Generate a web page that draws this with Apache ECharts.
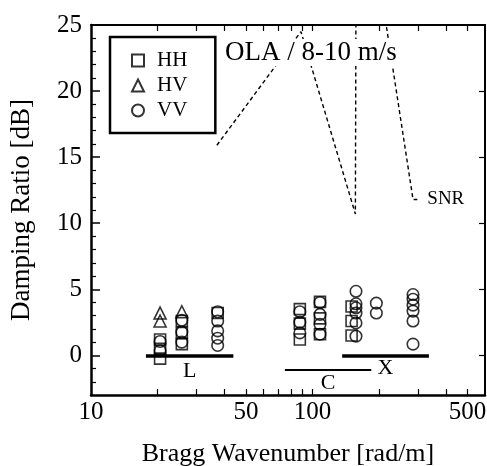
<!DOCTYPE html>
<html>
<head>
<meta charset="utf-8">
<script src="https://cdn.jsdelivr.net/npm/echarts@6/dist/echarts.min.js"></script>
<style>
  html, body { margin: 0; padding: 0; background: #fff; }
  #chart { width: 487px; height: 466px; }
</style>
</head>
<body>
<div id="chart"></div>
<script>
// Damping ratio vs Bragg wavenumber, three polarisations, OLA 8-10 m/s
const hhK  = [20.5, 20.5, 20.5, 25.7, 25.7, 25.7, 37.3, 87.6, 87.6, 87.6, 108, 108, 108, 150, 150, 150];
const hhDb = [1.2, 0.5, -0.25, 2.6, 1.7, 0.85, 3.2, 3.5, 2.4, 1.2, 4.05, 2.8, 1.6, 3.7, 2.6, 1.5];

const hvK  = [20.5, 20.5, 25.7];
const hvDb = [3.2, 2.6, 3.3];

const vvK  = [20.5, 20.5, 25.7, 25.7, 25.7, 37.3, 37.3, 37.3, 37.3, 37.3,
              87.6, 87.6, 87.6, 108, 108, 108, 108, 157, 157, 157, 157, 157, 157,
              194, 194, 284, 284, 284, 284, 284, 284];
const vvDb = [1.05, 0.35, 2.65, 1.75, 1.0, 3.3, 2.6, 1.85, 1.3, 0.75,
              3.3, 2.5, 1.7, 4.0, 3.1, 2.35, 1.6, 4.85, 3.9, 3.6, 3.2, 2.45, 1.45,
              3.95, 3.2, 4.6, 4.25, 3.8, 3.35, 2.6, 0.85];

// signal-to-noise limit (dashed)
const snrK  = [37, 88.6, 156, 157, 206, 284, 297];
const snrDb = [15.9, 24.5, 10.7, 27, 27, 11.8, 11.8];

// radar bands
const bandName  = ['L', 'C', 'X'];
const bandFrom  = [17.7, 75, 136];
const bandTo    = [43.9, 184, 335];
const bandLevel = [0, -1.1, 0];
const bandWidth = [3.5, 2, 3.5];

const xLabelValues = [10, 50, 100, 500];
const xTickValues  = [20, 30, 40, 50, 60, 70, 80, 90, 100, 200, 300, 400, 500];
const yLabelValues = [0, 5, 10, 15, 20, 25];
const yMinorValues = [-2, -1, 1, 2, 3, 4, 6, 7, 8, 9, 11, 12, 13, 14, 16, 17, 18, 19, 21, 22, 23, 24];

const FONT = "'Liberation Serif', 'Times New Roman', serif";
const pairs = (ks, vs) => ks.map((k, i) => [k, vs[i]]);

const hollow = { color: 'rgba(0,0,0,0)', borderColor: '#000', borderWidth: 1.6 };

const xBase = {
  type: 'log', logBase: 10, min: 10, max: 600,
  splitLine: { show: false }
};

const chart = echarts.init(document.getElementById('chart'), null, { renderer: 'canvas' });

chart.setOption({
  animation: false,
  backgroundColor: '#fff',
  textStyle: { fontFamily: FONT, color: '#000' },
  grid: { left: 91, right: 2, top: 25, bottom: 71, containLabel: false, outerBoundsMode: 'none' },
  title: {
    text: 'OLA / 8-10 m/s',
    left: 225, top: 39, padding: 0, z: 10,
    backgroundColor: '#fff',
    textStyle: { fontFamily: FONT, fontSize: 27, fontWeight: 'normal', color: '#000' }
  },
  legend: {
    orient: 'vertical',
    left: 110, top: 37,
    padding: [13, 28, 12, 21],
    itemGap: 4,
    itemWidth: 12, itemHeight: 12,
    borderColor: '#000', borderWidth: 2.5,
    backgroundColor: '#fff',
    data: [
      { name: 'HH', icon: 'rect' },
      { name: 'HV', icon: 'triangle' },
      { name: 'VV', icon: 'circle' }
    ],
    textStyle: { fontFamily: FONT, fontSize: 21, color: '#000', padding: [0, 0, 0, 8] }
  },
  xAxis: [
    Object.assign({}, xBase, {
      position: 'bottom',
      name: 'Bragg Wavenumber [rad/m]',
      nameLocation: 'middle', nameGap: 46,
      nameTextStyle: { fontFamily: FONT, fontSize: 26, color: '#000' },
      axisLine: { onZero: false, lineStyle: { color: '#000', width: 2.5 } },
      axisTick: { inside: true, length: 6, customValues: xTickValues, lineStyle: { color: '#000', width: 1.2 } },
      axisLabel: { customValues: xLabelValues, fontFamily: FONT, fontSize: 25, color: '#000', margin: 5 }
    }),
    Object.assign({}, xBase, {
      position: 'top',
      axisLine: { onZero: false, lineStyle: { color: '#000', width: 2 } },
      axisTick: { inside: true, length: 6, customValues: xTickValues, lineStyle: { color: '#000', width: 1.2 } },
      axisLabel: { show: false }
    })
  ],
  yAxis: [
    {
      type: 'value', min: -3, max: 25, position: 'left',
      name: 'Damping Ratio [dB]',
      nameLocation: 'middle', nameGap: 56,
      nameTextStyle: { fontFamily: FONT, fontSize: 27, color: '#000' },
      splitLine: { show: false },
      axisLine: { show: true, onZero: false, lineStyle: { color: '#000', width: 2.5 } },
      axisTick: { inside: true, length: 9, customValues: yLabelValues, lineStyle: { color: '#000', width: 1.5 } },
      axisLabel: { customValues: yLabelValues, fontFamily: FONT, fontSize: 25, color: '#000', margin: 9 }
    },
    {
      type: 'value', min: -3, max: 25, position: 'left',
      splitLine: { show: false },
      axisLine: { show: false, onZero: false },
      axisTick: { inside: true, length: 5, customValues: yMinorValues, lineStyle: { color: '#000', width: 1.2 } },
      axisLabel: { show: false }
    },
    {
      type: 'value', min: -3, max: 25, position: 'right',
      splitLine: { show: false },
      axisLine: { show: true, onZero: false, lineStyle: { color: '#000', width: 2 } },
      axisTick: { inside: true, length: 6, customValues: [0, 5, 10, 15, 20], lineStyle: { color: '#000', width: 1.2 } },
      axisLabel: { show: false }
    }
  ],
  series: [
    {
      name: 'SNR', type: 'line', xAxisIndex: 0, yAxisIndex: 0,
      data: pairs(snrK, snrDb),
      symbol: 'none', clip: true, silent: true,
      lineStyle: { color: '#000', width: 1.4, type: [4, 3] },
      endLabel: { show: true, formatter: 'SNR', distance: 10, fontFamily: FONT, fontSize: 19, color: '#000' }
    },
    {
      name: 'bands', type: 'lines', coordinateSystem: 'cartesian2d',
      xAxisIndex: 0, yAxisIndex: 0, silent: true,
      data: bandName.map((n, i) => ({
        name: n,
        coords: [[bandFrom[i], bandLevel[i]], [bandTo[i], bandLevel[i]]],
        lineStyle: { width: bandWidth[i] },
        label: { distance: i === 0 ? 5 : 2 }
      })),
      lineStyle: { color: '#000', opacity: 1, curveness: 0 },
      symbol: 'none',
      label: {
        show: true, position: 'insideMiddleBottom', formatter: '{b}',
        fontFamily: FONT, fontSize: 22, color: '#000'
      }
    },
    {
      name: 'HH', type: 'scatter', symbol: 'rect', symbolSize: 11,
      data: pairs(hhK, hhDb), itemStyle: hollow
    },
    {
      name: 'HV', type: 'scatter', symbol: 'triangle', symbolSize: 12,
      data: pairs(hvK, hvDb), itemStyle: hollow
    },
    {
      name: 'VV', type: 'scatter', symbol: 'circle', symbolSize: 11.5,
      data: pairs(vvK, vvDb), itemStyle: hollow
    }
  ]
});
</script>
</body>
</html>
